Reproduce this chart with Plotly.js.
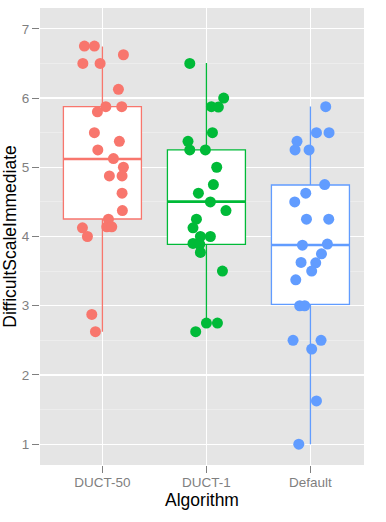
<!DOCTYPE html>
<html>
<head>
<meta charset="utf-8">
<script src="https://cdn.plot.ly/plotly-3.0.1.min.js"></script>
<style>html,body{margin:0;padding:0;background:#fff}#chart{width:386px;height:522px}</style>
</head>
<body>
<div id="chart"></div>
<script>
// Categories and tick labels
var categories = ["DUCT-50", "DUCT-1", "Default"];
var colors = ["#F8766D", "#00BA38", "#619CFF"];

var duct50Values = [6.75, 6.75, 6.625, 6.5, 6.5, 6.125, 5.875, 5.875, 5.8, 5.5, 5.375, 5.25, 5.125, 5.0, 4.875, 4.875, 4.625, 4.375, 4.25, 4.125, 4.14, 4.14, 4.0, 2.875, 2.625];
var duct50Jitter = [-0.173, -0.077, 0.202, -0.188, -0.022, 0.154, 0.033, 0.186, -0.048, -0.077, 0.163, -0.044, 0.106, 0.202, 0.067, 0.189, 0.189, 0.192, 0.058, -0.192, 0.042, 0.090, -0.144, -0.102, -0.067];

var duct1Values = [6.5, 6.0, 5.875, 5.87, 5.5, 5.375, 5.25, 5.25, 5.0, 4.75, 4.625, 4.5, 4.375, 4.25, 4.125, 4.0, 4.0, 3.9, 3.887, 3.77, 3.5, 2.75, 2.75, 2.625];
var duct1Jitter = [-0.160, 0.166, 0.048, 0.115, 0.058, -0.177, -0.160, -0.010, 0.099, 0.067, -0.077, 0.038, 0.188, -0.096, -0.129, -0.058, 0.038, -0.129, -0.064, -0.058, 0.154, 0.0, 0.106, -0.103];

var defaultValues = [5.875, 5.5, 5.5, 5.375, 5.25, 5.25, 4.75, 4.625, 4.5, 4.25, 4.25, 3.875, 3.89, 3.75, 3.625, 3.62, 3.5, 3.375, 3.0, 3.0, 2.5, 2.5, 2.375, 1.625, 1.0];
var defaultJitter = [0.147, 0.058, 0.179, -0.129, -0.148, -0.013, 0.137, -0.045, -0.151, -0.038, 0.176, -0.077, 0.163, 0.106, -0.090, 0.051, 0.012, -0.141, -0.103, -0.055, -0.167, 0.102, 0.012, 0.058, -0.112];

// Box statistics
var boxQ1 = [4.253, 3.887, 3.02];
var boxMedian = [5.12, 4.503, 3.877];
var boxQ3 = [5.877, 5.25, 4.744];
var boxLower = [2.624, 2.70, 1.0];
var boxUpper = [6.744, 6.504, 5.877];

// Y tick values
var yTicks = [1, 2, 3, 4, 5, 6, 7];

var groups = [
  {values: duct50Values, jitter: duct50Jitter},
  {values: duct1Values, jitter: duct1Jitter},
  {values: defaultValues, jitter: defaultJitter}
];

var BOX_WIDTH = 0.75;
var traces = [];
categories.forEach(function (cat, i) {
  traces.push({
    type: "box",
    x: [i + 1],
    q1: [boxQ1[i]],
    median: [boxMedian[i]],
    q3: [boxQ3[i]],
    lowerfence: [boxLower[i]],
    upperfence: [boxUpper[i]],
    width: BOX_WIDTH,
    whiskerwidth: 0,
    fillcolor: "#FFFFFF",
    line: {color: colors[i], width: 1.3},
    boxpoints: false,
    hoverinfo: "skip",
    showlegend: false
  });
});
// thicker median lines
categories.forEach(function (cat, i) {
  traces.push({
    type: "scatter",
    mode: "lines",
    x: [i + 1 - BOX_WIDTH / 2, i + 1 + BOX_WIDTH / 2],
    y: [boxMedian[i], boxMedian[i]],
    line: {color: colors[i], width: 2.6},
    hoverinfo: "skip",
    showlegend: false
  });
});
// jittered points
categories.forEach(function (cat, i) {
  var g = groups[i];
  traces.push({
    type: "scatter",
    mode: "markers",
    x: g.jitter.map(function (j) { return i + 1 + j; }),
    y: g.values,
    marker: {color: colors[i], size: 11, line: {width: 0}},
    name: cat,
    showlegend: false
  });
});

var tickFont = {family: "Liberation Sans, Arial, sans-serif", size: 13.5, color: "#7F7F7F"};
var titleFont = {family: "Liberation Sans, Arial, sans-serif", size: 17.5, color: "#000000"};

var layout = {
  width: 386,
  height: 522,
  margin: {l: 40, r: 22, t: 8, b: 57},
  paper_bgcolor: "#FFFFFF",
  plot_bgcolor: "#E5E5E5",
  showlegend: false,
  xaxis: {
    range: [0.4, 3.515],
    tickmode: "array",
    tickvals: [1, 2, 3],
    ticktext: categories,
    showgrid: true,
    gridcolor: "#FFFFFF",
    gridwidth: 1.2,
    zeroline: false,
    showline: false,
    ticks: "outside",
    ticklen: 7,
    tickwidth: 1,
    tickcolor: "#7F7F7F",
    ticklabelstandoff: -2,
    tickfont: tickFont,
    title: {text: "Algorithm", font: titleFont, standoff: 2}
  },
  yaxis: {
    range: [0.7, 7.3],
    tickmode: "array",
    tickvals: yTicks,
    ticktext: yTicks.map(String),
    showgrid: true,
    gridcolor: "#FFFFFF",
    gridwidth: 1.2,
    minor: {tickmode: "linear", tick0: 0.5, dtick: 1, showgrid: true, gridcolor: "#F2F2F2", gridwidth: 0.6, ticks: ""},
    zeroline: false,
    showline: false,
    ticks: "outside",
    ticklen: 7,
    tickwidth: 1,
    tickcolor: "#7F7F7F",
    tickfont: tickFont,
    title: {text: "DifficultScaleImmediate", font: titleFont, standoff: 2}
  }
};

Plotly.newPlot("chart", traces, layout, {displayModeBar: false, staticPlot: true});
</script>
</body>
</html>
